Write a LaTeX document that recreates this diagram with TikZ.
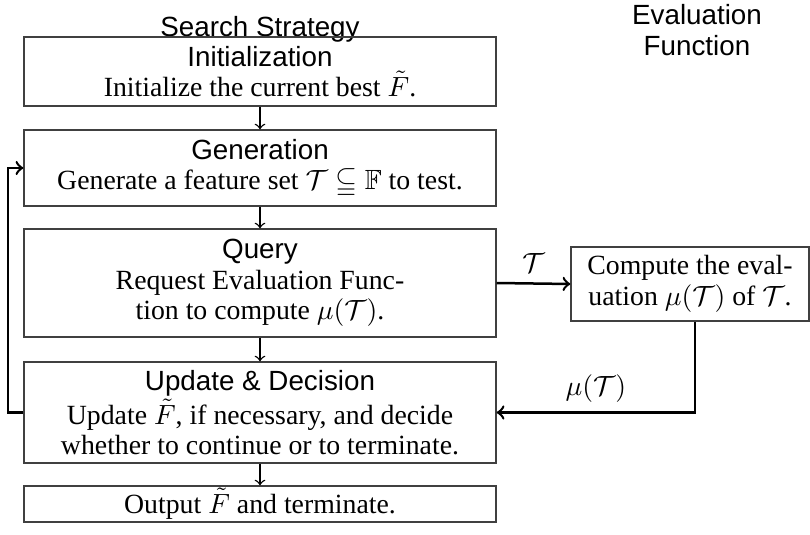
\documentclass[tikz,border=0pt]{standalone}
\usepackage{amsmath, amssymb}
\usepackage{fontspec}
\setmainfont{Liberation Serif}
\setsansfont{Liberation Sans}
\usepackage{tikz}
\tikzstyle{stageBox}=[shape = rectangle, draw = black!75, line width = 0.5pt, minimum width = 472*0.36pt, inner sep = 0pt, align = center, font = \fontsize{10}{11}\selectfont]
\tikzstyle{evalBox}=[shape = rectangle, draw = black!75, line width = 0.5pt, minimum width = 238*0.36pt, minimum height = 74*0.36pt, inner sep = 0pt, align = center, font = \fontsize{10}{11}\selectfont]
\tikzstyle{headLabel}=[align = center, font = \sffamily\fontsize{10}{11}\selectfont]
\newcommand{\stageHead}[1]{\textsf{#1}}

\begin{document}
\begin{tikzpicture}[x = 0.36pt, y = -0.36pt]
\tikzstyle{stepArrow}=[->, line width = 0.5pt]
\tikzstyle{loopArrow}=[->, line width = 0.9pt]
\useasboundingbox (0,0) rectangle (810,535);
\node[headLabel] (hSearch) at (260, 29) {Search Strategy};
\node[headLabel] (hEval) at (697, 30) {Evaluation\\Function};
\node[stageBox, minimum height = 69*0.36pt] (init) at (260, 71.5) {\stageHead{Initialization}\\Initialize the current best $\tilde{F}$.};
\node[stageBox, minimum height = 76*0.36pt] (gen) at (260, 168) {\stageHead{Generation}\\Generate a feature set $\mathcal{T} \subseteqq \mathbb{F}$ to test.};
\node[stageBox, minimum height = 108*0.36pt] (query) at (260, 283) {\stageHead{Query}\\Request Evaluation Func-\\tion to compute $\mu(\mathcal{T})$.};
\node[stageBox, minimum height = 101*0.36pt] (update) at (260, 412.5) {\stageHead{Update \& Decision}\\Update $\tilde{F}$, if necessary, and decide\\whether to continue or to terminate.};
\node[stageBox, minimum height = 36*0.36pt] (output) at (260, 504) {Output $\tilde{F}$ and terminate.};
\node[evalBox] (eval) at (690, 284) {Compute the eval-\\uation $\mu(\mathcal{T})$ of $\mathcal{T}$.};
\coordinate (back) at (8, 412.5);
\draw[stepArrow] (init) -- (gen);
\draw[stepArrow] (gen) -- (query);
\draw[stepArrow] (query) -- (update);
\draw[stepArrow] (update) -- (output);
\draw[loopArrow] (query.east) -- node[above, font = \fontsize{10}{11}\selectfont] {$\mathcal{T}$} (eval.west);
\draw[loopArrow] ([xshift = 5*0.36pt]eval.south) |- node[pos = 0.75, above, font = \fontsize{10}{11}\selectfont] {$\mu(\mathcal{T})$} (update.east);
\draw[loopArrow] (update.west) -- (back) |- (gen.west);
\end{tikzpicture}
\end{document}
